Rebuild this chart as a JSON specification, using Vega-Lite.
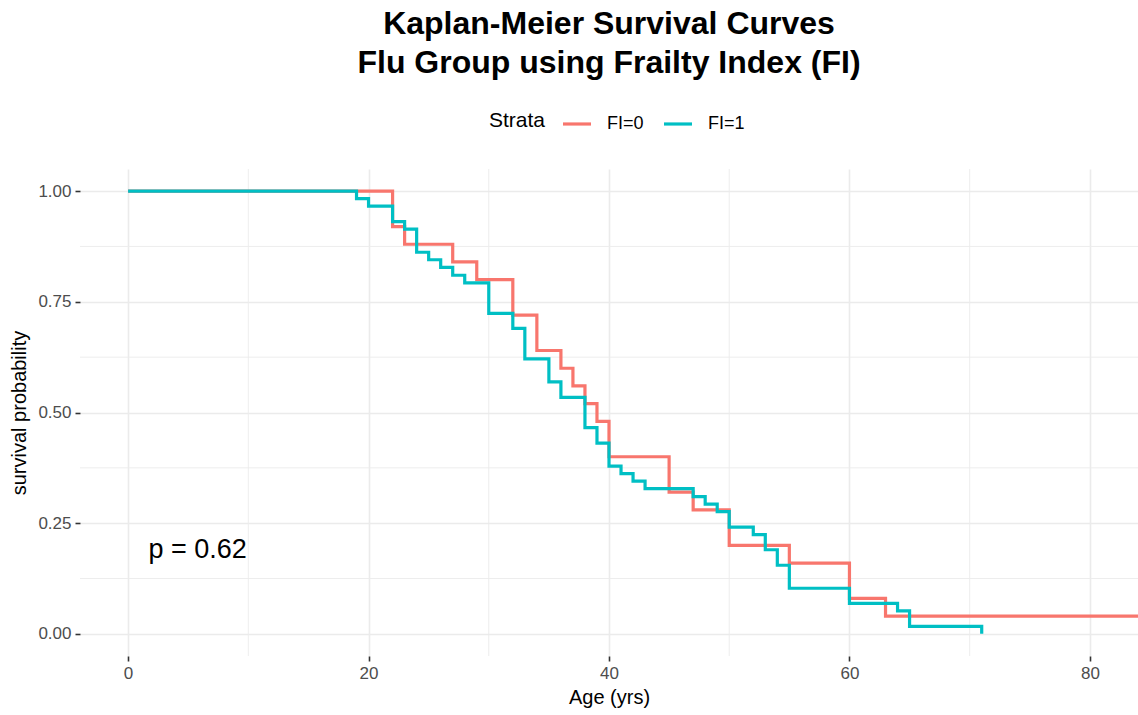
{
  "$schema": "https://vega.github.io/schema/vega-lite/v6.json",
  "autosize": {"type": "none"},
  "width": 1058,
  "height": 487,
  "padding": {"left": 80, "top": 169, "right": 0, "bottom": 59},
  "background": "white",
  "title": {
    "text": ["Kaplan-Meier Survival Curves", "Flu Group using Frailty Index (FI)"],
    "anchor": "middle",
    "fontSize": 32,
    "fontWeight": "bold",
    "font": "Liberation Sans",
    "lineHeight": 39,
    "color": "black",
    "offset": 28
  },
  "config": {
    "font": "Liberation Sans",
    "view": {"stroke": null},
    "axis": {
      "gridColor": "#EBEBEB",
      "gridWidth": 1.6,
      "domain": false,
      "tickColor": "#333333",
      "tickSize": 5,
      "tickWidth": 1.6,
      "labelColor": "#4D4D4D",
      "labelFontSize": 17,
      "labelFont": "Liberation Sans",
      "titleFont": "Liberation Sans",
      "titleFontSize": 20,
      "titleFontWeight": "normal",
      "titleColor": "black"
    },
    "legend": {
      "orient": "none",
      "legendX": 409,
      "legendY": -61,
      "direction": "horizontal",
      "titleOrient": "left",
      "titleFontSize": 21,
      "titleFontWeight": "normal",
      "titleColor": "black",
      "titleFont": "Liberation Sans",
      "labelFont": "Liberation Sans",
      "labelFontSize": 18,
      "labelColor": "black",
      "symbolType": "stroke",
      "symbolStrokeWidth": 3.2,
      "symbolSize": 784,
      "titlePadding": 15,
      "labelOffset": 14,
      "columnPadding": 13,
      "padding": 0
    }
  },
  "datasets": {
    "curves": [
      {"t": 0, "S": 1, "Strata": "FI=0"},
      {"t": 22, "S": 0.92, "Strata": "FI=0"},
      {"t": 23, "S": 0.88, "Strata": "FI=0"},
      {"t": 27, "S": 0.84, "Strata": "FI=0"},
      {"t": 29, "S": 0.80, "Strata": "FI=0"},
      {"t": 32, "S": 0.72, "Strata": "FI=0"},
      {"t": 34, "S": 0.64, "Strata": "FI=0"},
      {"t": 36, "S": 0.60, "Strata": "FI=0"},
      {"t": 37, "S": 0.56, "Strata": "FI=0"},
      {"t": 38, "S": 0.52, "Strata": "FI=0"},
      {"t": 39, "S": 0.48, "Strata": "FI=0"},
      {"t": 40, "S": 0.40, "Strata": "FI=0"},
      {"t": 45, "S": 0.32, "Strata": "FI=0"},
      {"t": 47, "S": 0.28, "Strata": "FI=0"},
      {"t": 50, "S": 0.20, "Strata": "FI=0"},
      {"t": 55, "S": 0.16, "Strata": "FI=0"},
      {"t": 60, "S": 0.08, "Strata": "FI=0"},
      {"t": 63, "S": 0.04, "Strata": "FI=0"},
      {"t": 85, "S": 0.04, "Strata": "FI=0"},
      {"t": 0, "S": 1, "Strata": "FI=1"},
      {"t": 19, "S": 0.983, "Strata": "FI=1"},
      {"t": 20, "S": 0.966, "Strata": "FI=1"},
      {"t": 22, "S": 0.931, "Strata": "FI=1"},
      {"t": 23, "S": 0.914, "Strata": "FI=1"},
      {"t": 24, "S": 0.862, "Strata": "FI=1"},
      {"t": 25, "S": 0.845, "Strata": "FI=1"},
      {"t": 26, "S": 0.828, "Strata": "FI=1"},
      {"t": 27, "S": 0.810, "Strata": "FI=1"},
      {"t": 28, "S": 0.793, "Strata": "FI=1"},
      {"t": 30, "S": 0.724, "Strata": "FI=1"},
      {"t": 32, "S": 0.690, "Strata": "FI=1"},
      {"t": 33, "S": 0.621, "Strata": "FI=1"},
      {"t": 35, "S": 0.569, "Strata": "FI=1"},
      {"t": 36, "S": 0.534, "Strata": "FI=1"},
      {"t": 38, "S": 0.466, "Strata": "FI=1"},
      {"t": 39, "S": 0.431, "Strata": "FI=1"},
      {"t": 40, "S": 0.379, "Strata": "FI=1"},
      {"t": 41, "S": 0.362, "Strata": "FI=1"},
      {"t": 42, "S": 0.345, "Strata": "FI=1"},
      {"t": 43, "S": 0.328, "Strata": "FI=1"},
      {"t": 47, "S": 0.310, "Strata": "FI=1"},
      {"t": 48, "S": 0.293, "Strata": "FI=1"},
      {"t": 49, "S": 0.276, "Strata": "FI=1"},
      {"t": 50, "S": 0.241, "Strata": "FI=1"},
      {"t": 52, "S": 0.224, "Strata": "FI=1"},
      {"t": 53, "S": 0.190, "Strata": "FI=1"},
      {"t": 54, "S": 0.155, "Strata": "FI=1"},
      {"t": 55, "S": 0.103, "Strata": "FI=1"},
      {"t": 60, "S": 0.069, "Strata": "FI=1"},
      {"t": 64, "S": 0.052, "Strata": "FI=1"},
      {"t": 65, "S": 0.017, "Strata": "FI=1"},
      {"t": 71, "S": 0.0, "Strata": "FI=1"}
    ]
  },
  "layer": [
    {
      "data": {"values": [{"t": 10}, {"t": 30}, {"t": 50}, {"t": 70}]},
      "mark": {"type": "rule", "color": "#EBEBEB", "strokeWidth": 0.9},
      "encoding": {
        "x": {"field": "t", "type": "quantitative", "scale": {"domain": [-4, 84], "nice": false, "zero": false}, "axis": {"values": [0, 20, 40, 60, 80], "title": "Age (yrs)", "labelPadding": 4, "titlePadding": 6}}
      }
    },
    {
      "data": {"values": [{"S": 0.125}, {"S": 0.375}, {"S": 0.625}, {"S": 0.875}]},
      "mark": {"type": "rule", "color": "#EBEBEB", "strokeWidth": 0.9},
      "encoding": {
        "y": {"field": "S", "type": "quantitative", "scale": {"domain": [-0.05, 1.05], "nice": false, "zero": false}, "axis": {"values": [0, 0.25, 0.5, 0.75, 1], "format": ".2f", "title": "survival probability", "labelPadding": 4, "titlePadding": 8}}
      }
    },
    {
      "data": {"name": "curves"},
      "mark": {"type": "line", "interpolate": "step-after", "strokeWidth": 3.2, "clip": true},
      "encoding": {
        "x": {"field": "t", "type": "quantitative"},
        "y": {"field": "S", "type": "quantitative"},
        "color": {"field": "Strata", "type": "nominal", "scale": {"domain": ["FI=0", "FI=1"], "range": ["#F8766D", "#00BFC4"]}, "legend": {"title": "Strata"}}
      }
    },
    {
      "data": {"values": [{"t": 1.7, "S": 0.19, "label": "p = 0.62"}]},
      "mark": {"type": "text", "align": "left", "baseline": "middle", "fontSize": 27, "font": "Liberation Sans", "color": "black"},
      "encoding": {
        "x": {"field": "t", "type": "quantitative"},
        "y": {"field": "S", "type": "quantitative"},
        "text": {"field": "label"}
      }
    }
  ]
}
